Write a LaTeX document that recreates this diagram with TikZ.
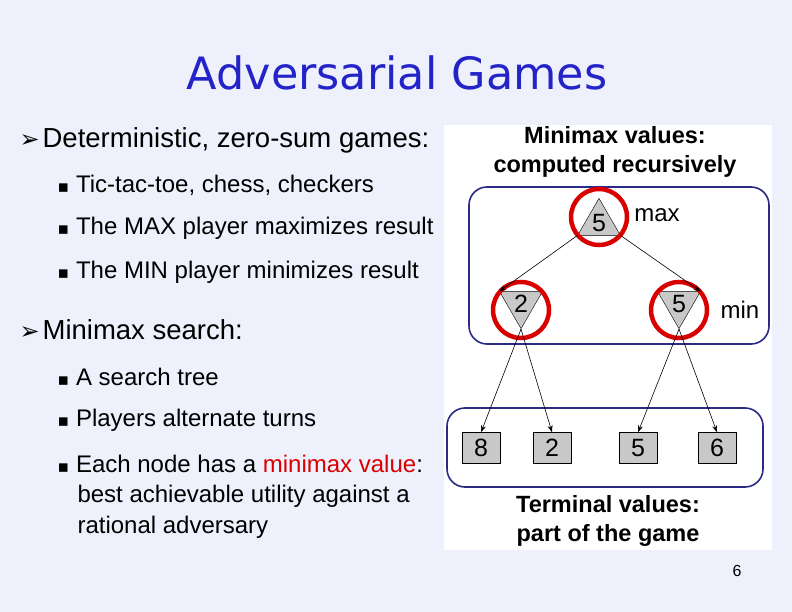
\documentclass[tikz,border=0pt]{standalone}
\usepackage{fontspec}
\setmainfont{Liberation Sans}
\newfontfamily\symfont{DejaVu Sans}
\usetikzlibrary{shapes.geometric}
\usetikzlibrary{arrows.meta}
\definecolor{bgblue}{HTML}{EEF0FC}
\definecolor{frameblue}{HTML}{2B2B86}
\definecolor{titleblue}{HTML}{2323C8}
\definecolor{nodegray}{HTML}{C8C8C8}
\tikzset{
  maxnode/.style={regular polygon, regular polygon sides=3, draw, fill=nodegray, minimum size=48pt, inner sep=0pt, font=\fontsize{25}{25}\selectfont},
  minnode/.style={maxnode, shape border rotate=180},
  leaf/.style={draw, fill=nodegray, minimum width=38pt, minimum height=31pt, inner sep=0pt, font=\fontsize{25}{25}\selectfont},
  ring/.style={draw=red!85!black, line width=4.5pt, circle, minimum size=56pt},
  edge/.style={-{Stealth[length=7pt,width=5pt]}, line width=0.6pt},
  group/.style={draw=frameblue, line width=1.6pt, rounded corners=18pt},
  bigitem/.style={anchor=west, font=\fontsize{27.5}{30}\selectfont},
  smallitem/.style={anchor=west, font=\fontsize{24}{31}\selectfont, align=left},
  head/.style={font=\bfseries\fontsize{23.5}{29}\selectfont, align=center}
}
\begin{document}
\begin{tikzpicture}[x=1pt,y=-1pt]
  \fill [bgblue] (0,0) rectangle (792,612); % fond
  \useasboundingbox (0,0) rectangle (792,612);
  \fill [white] (444,125) rectangle (772,550); % panneau
  \node (title) at (397,73) [text=titleblue, font=\fontsize{44.5}{44.5}\selectfont\symfont] {Adversarial Games};
  % liste de gauche
  \node (b1) at (16,140) [bigitem] {{\symfont\fontsize{24}{24}\selectfont ➢}\hspace{3pt}Deterministic, zero-sum games:};
  \node (s1) at (54,185) [smallitem] {{\symfont\fontsize{17}{17}\selectfont ▪}\hspace{7pt}Tic-tac-toe, chess, checkers};
  \node (s2) at (54,228) [smallitem] {{\symfont\fontsize{17}{17}\selectfont ▪}\hspace{7pt}The MAX player maximizes result};
  \node (s3) at (54,272) [smallitem] {{\symfont\fontsize{17}{17}\selectfont ▪}\hspace{7pt}The MIN player minimizes result};
  \node (b2) at (16,330) [bigitem] {{\symfont\fontsize{24}{24}\selectfont ➢}\hspace{3pt}Minimax search:};
  \node (s4) at (54,377) [smallitem] {{\symfont\fontsize{17}{17}\selectfont ▪}\hspace{7pt}A search tree};
  \node (s5) at (54,420) [smallitem] {{\symfont\fontsize{17}{17}\selectfont ▪}\hspace{7pt}Players alternate turns};
  \node (s6) at (54,464) [smallitem] {{\symfont\fontsize{17}{17}\selectfont ▪}\hspace{7pt}Each node has a \textcolor{red!85!black}{minimax value}:};
  \node (s7) at (74,512) [smallitem] {best achievable utility against a\\rational adversary};
  % arbre
  \draw [group] (469,187) rectangle (769,344);
  \draw [group] (447,408) rectangle (763,487);
  \node (top) at (599,223) [maxnode] {5};
  \node (left) at (521,304) [minnode] {2};
  \node (right) at (679,304) [minnode] {5};
  \node (t8) at (481,448) [leaf] {8};
  \node (t2) at (552,448) [leaf] {2};
  \node (t5) at (638,448) [leaf] {5};
  \node (t6) at (717,448) [leaf] {6};
  \node (rtop) at (599,217) [ring] {};
  \node (rleft) at (521,310) [ring] {};
  \node (rright) at (679,310) [ring] {};
  \draw [edge] (top.corner 2) -- (left.corner 3);
  \draw [edge] (top.corner 3) -- (right.corner 2);
  \draw [edge] (left.corner 1) -- (t8.north);
  \draw [edge] (left.corner 1) -- (t2.north);
  \draw [edge] (right.corner 1) -- (t5.north);
  \draw [edge] (right.corner 1) -- (t6.north);
  \node (lmax) at (657,215) [font=\fontsize{24}{24}\selectfont] {max};
  \node (lmin) at (740,310) [font=\fontsize{24}{24}\selectfont] {min};
  \node (htop) at (615,152) [head] {Minimax values:\\computed recursively};
  \node (hbot) at (608,521) [head] {Terminal values:\\part of the game};
  \node (page) at (737,571) [font=\fontsize{16}{16}\selectfont] {6};
\end{tikzpicture}
\end{document}
